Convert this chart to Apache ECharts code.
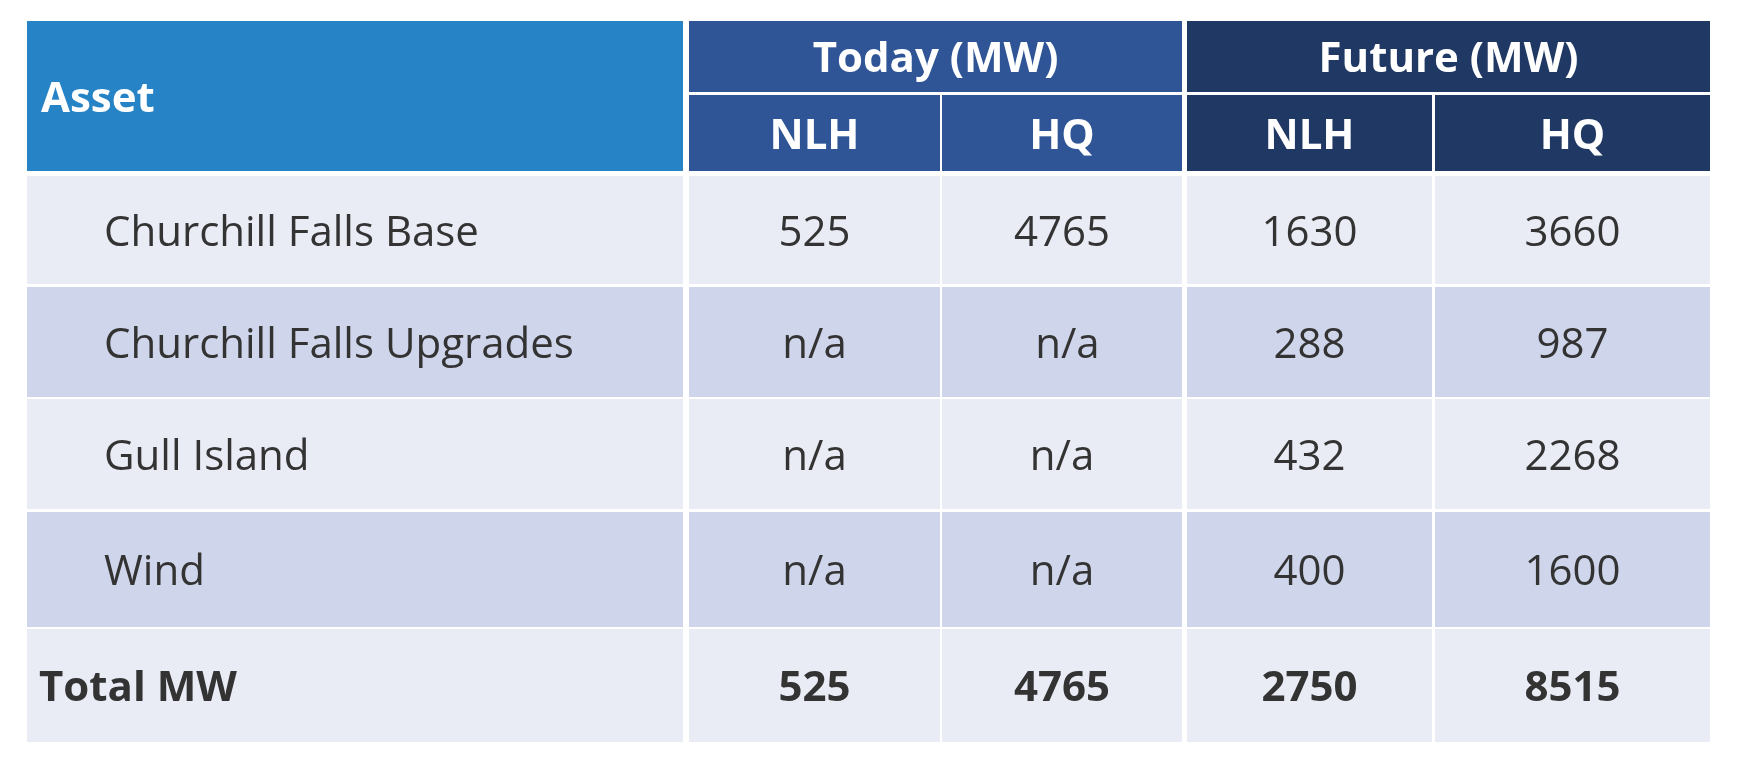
<!DOCTYPE html>
<html>
<head>
<meta charset="utf-8">
<script src="https://cdn.jsdelivr.net/npm/echarts@6/dist/echarts.min.js"></script>
<style>
  html, body { margin: 0; padding: 0; background: #ffffff; }
  #chart { width: 1745px; height: 770px; }
</style>
</head>
<body>
<div id="chart"></div>
<script>
// ---- data ----
const cornerHeader = 'Asset';
const groupHeaders = ['Today (MW)', 'Future (MW)'];
const subHeaders = ['NLH', 'HQ'];
const assets = ['Churchill Falls Base', 'Churchill Falls Upgrades', 'Gull Island', 'Wind'];
const todayNLH = ['525', 'n/a', 'n/a', 'n/a'];
const todayHQ = ['4765', ' n/a', 'n/a', 'n/a'];
const futureNLH = ['1630', '288', '432', '400'];
const futureHQ = ['3660', '987', '2268', '1600'];
const totalLabel = 'Total MW';
const totals = ['525', '4765', '2750', '8515'];

// ---- layout (axis units, one unit per pixel) ----
const COLS = [[27, 683], [689, 940], [942, 1182], [1187, 1432], [1435, 1710]];
const ROWS = [[21, 92], [95, 171], [176, 284], [287, 397], [399, 509], [512, 627], [629, 742]];
const C_ASSET = '#2683C6', C_TODAY = '#2F5597', C_FUTURE = '#203864';
const C_LIGHT = '#E9EBF5', C_DARK = '#CFD5EA';
const FONT = '"Open Sans", "Noto Sans", sans-serif';
const FONT_SIZE = 42;
const TEXT_DY = 4;

// cells: [colStart, colEnd, rowStart, rowEnd, text, fill, textColor, bold, align, pad]
const cells = [];
cells.push([0, 0, 0, 1, cornerHeader, C_ASSET, '#ffffff', true, 'left', 14]);
cells.push([1, 2, 0, 0, groupHeaders[0], C_TODAY, '#ffffff', true, 'center', 0]);
cells.push([3, 4, 0, 0, groupHeaders[1], C_FUTURE, '#ffffff', true, 'center', 0]);
cells.push([1, 1, 1, 1, subHeaders[0], C_TODAY, '#ffffff', true, 'center', 0]);
cells.push([2, 2, 1, 1, subHeaders[1], C_TODAY, '#ffffff', true, 'center', 0]);
cells.push([3, 3, 1, 1, subHeaders[0], C_FUTURE, '#ffffff', true, 'center', 0]);
cells.push([4, 4, 1, 1, subHeaders[1], C_FUTURE, '#ffffff', true, 'center', 0]);
const valueCols = [todayNLH, todayHQ, futureNLH, futureHQ];
assets.forEach(function (name, i) {
  const fill = i % 2 === 0 ? C_LIGHT : C_DARK;
  const r = i + 2;
  cells.push([0, 0, r, r, name, fill, '#333333', false, 'left', 77]);
  valueCols.forEach(function (col, j) {
    cells.push([j + 1, j + 1, r, r, col[i], fill, '#333333', false, 'center', 0]);
  });
});
const totalRow = assets.length + 2;
cells.push([0, 0, totalRow, totalRow, totalLabel, C_LIGHT, '#333333', true, 'left', 12]);
totals.forEach(function (t, j) {
  cells.push([j + 1, j + 1, totalRow, totalRow, t, C_LIGHT, '#333333', true, 'center', 0]);
});

const chart = echarts.init(document.getElementById('chart'));
chart.setOption({
  animation: false,
  backgroundColor: '#ffffff',
  grid: { left: 0, right: 0, top: 0, bottom: 0 },
  xAxis: { type: 'value', min: 0, max: 1745, show: false },
  yAxis: { type: 'value', min: 0, max: 770, inverse: true, show: false },
  series: [{
    type: 'custom',
    coordinateSystem: 'cartesian2d',
    data: cells.map(function (c, idx) { return [idx]; }),
    renderItem: function (params, api) {
      const c = cells[api.value(0)];
      const p0 = api.coord([COLS[c[0]][0], ROWS[c[2]][0]]);
      const p1 = api.coord([COLS[c[1]][1], ROWS[c[3]][1]]);
      const x = p0[0], y = p0[1], w = p1[0] - p0[0], h = p1[1] - p0[1];
      const tx = c[8] === 'left' ? x + c[9] : x + w / 2;
      return {
        type: 'group',
        children: [
          { type: 'rect', shape: { x: x, y: y, width: w, height: h }, style: { fill: c[5] } },
          {
            type: 'text',
            x: tx, y: y + h / 2 + TEXT_DY,
            style: {
              text: c[4],
              fill: c[6],
              fontFamily: FONT,
              fontSize: FONT_SIZE,
              fontWeight: c[7] ? 'bold' : 'normal',
              align: c[8],
              verticalAlign: 'middle'
            }
          }
        ]
      };
    }
  }]
});
</script>
</body>
</html>
